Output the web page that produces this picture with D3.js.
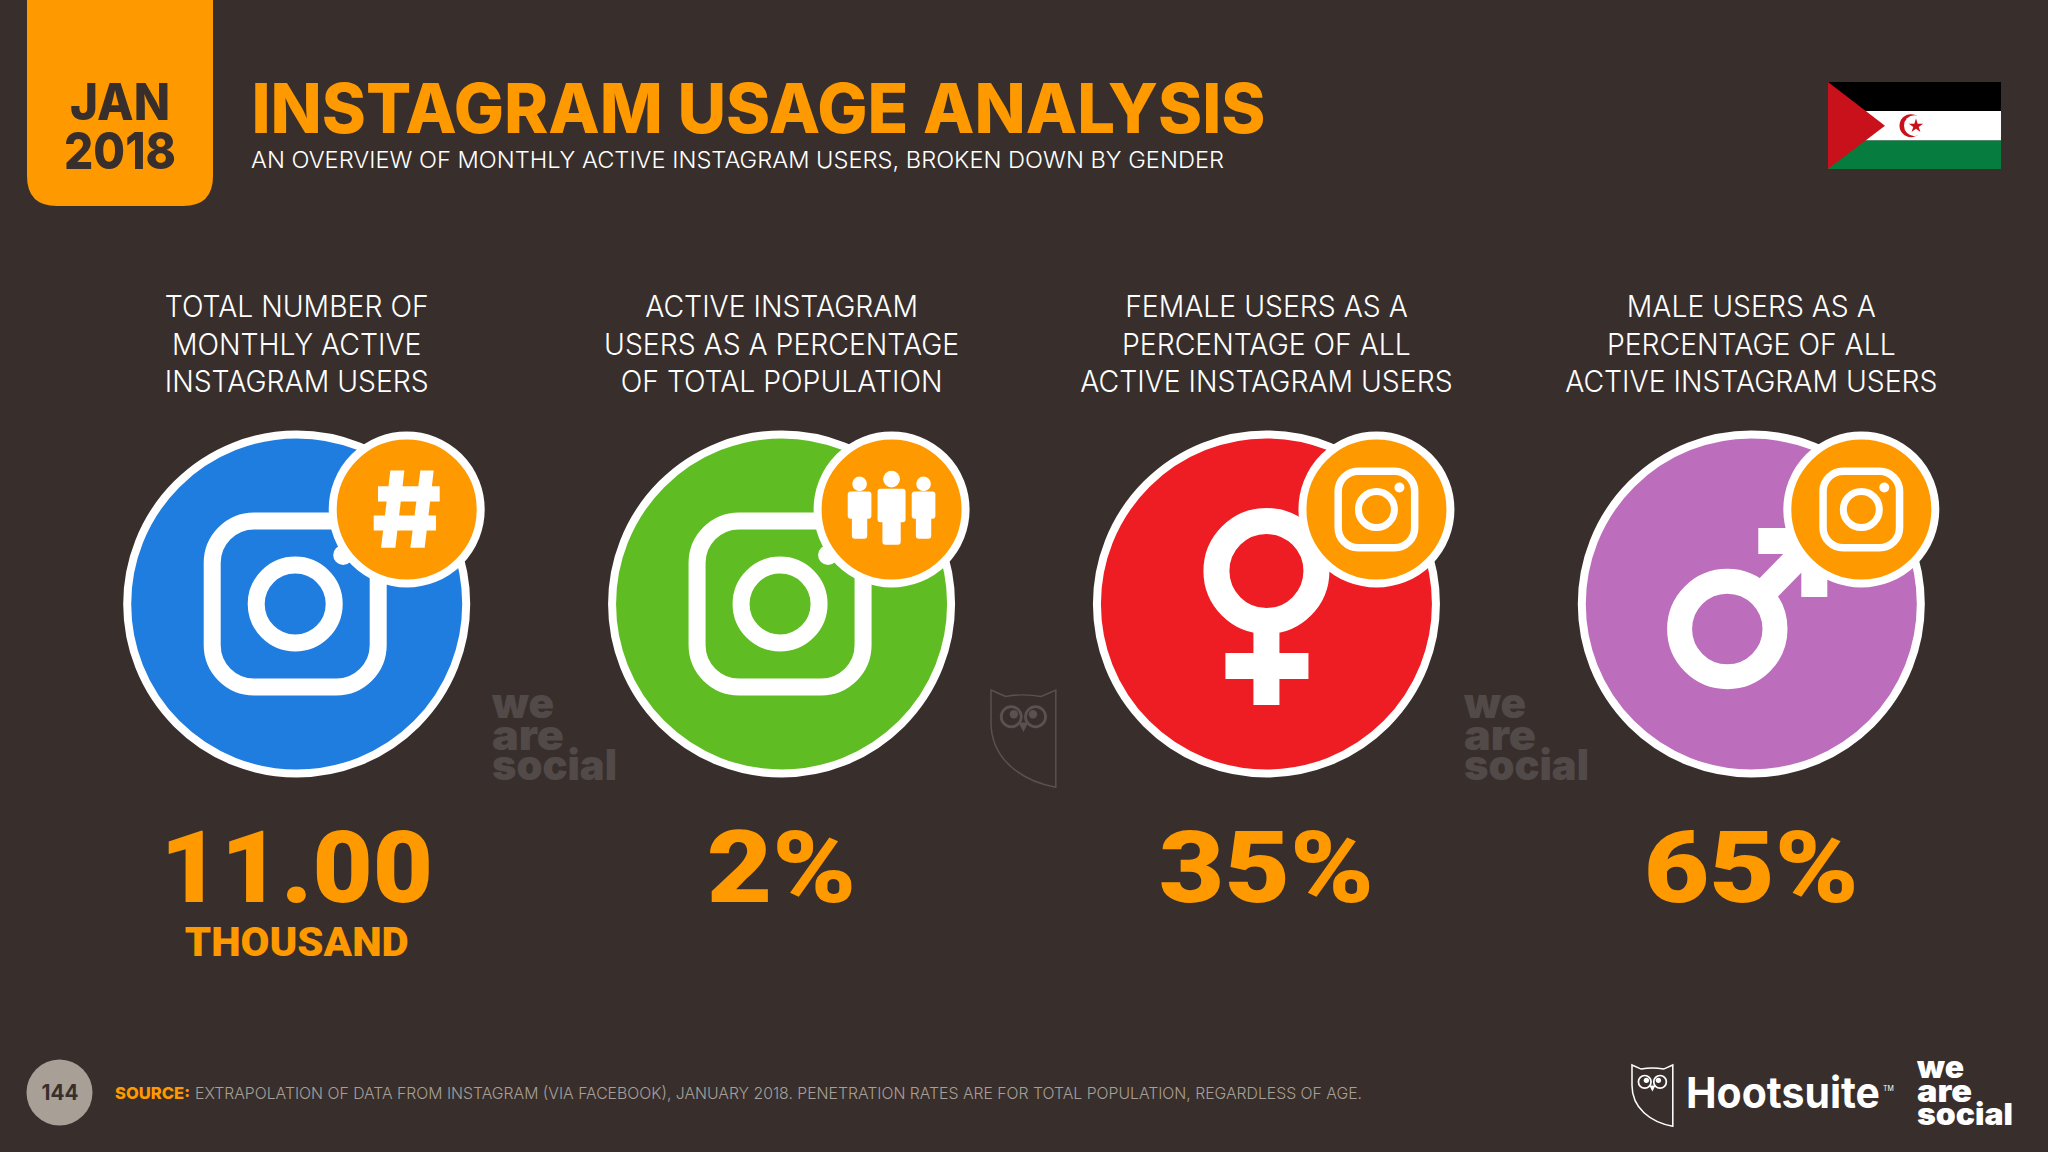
<!DOCTYPE html>
<html>
<head>
<meta charset="utf-8">
<script src="https://d3js.org/d3.v7.min.js"></script>
<style>
html,body{margin:0;padding:0;background:#382f2d;}
svg{display:block;}
</style>
</head>
<body>
<svg id="chart" width="2048" height="1152"></svg>
<script>
// ---------- data ----------
const categories = ["Total users","Penetration","Female share","Male share"];
const headings = [
  ["TOTAL NUMBER OF","MONTHLY ACTIVE","INSTAGRAM USERS"],
  ["ACTIVE INSTAGRAM","USERS AS A PERCENTAGE","OF TOTAL POPULATION"],
  ["FEMALE USERS AS A","PERCENTAGE OF ALL","ACTIVE INSTAGRAM USERS"],
  ["MALE USERS AS A","PERCENTAGE OF ALL","ACTIVE INSTAGRAM USERS"]
];
const values = [11.00, 2, 35, 65];
const valueFormats = [".2f","d","d","d"];
const suffixes = ["","%","%","%"];
const units = ["THOUSAND","","",""];
const colors = ["#1f7ddf","#5fbd23","#ee1d23","#bc6dbc"];
const mainIcons = ["instagram","instagram","female","male"];
const badgeIcons = ["hash","people","instagram","instagram"];
const titleText = "INSTAGRAM USAGE ANALYSIS";
const subtitleText = "AN OVERVIEW OF MONTHLY ACTIVE INSTAGRAM USERS, BROKEN DOWN BY GENDER";
const dateLines = ["JAN","2018"];
const sourceLabel = "SOURCE:";
const sourceText = "EXTRAPOLATION OF DATA FROM INSTAGRAM (VIA FACEBOOK), JANUARY 2018. PENETRATION RATES ARE FOR TOTAL POPULATION, REGARDLESS OF AGE.";
const pageNumber = "144";
const brandWords = ["we","are","social"];

// ---------- setup ----------
const ORANGE = "#ff9900", BG = "#382f2d", WHITE = "#ffffff";
const svg = d3.select("#chart");
const x = d3.scalePoint().domain(categories).range([296.7, 1751.3]);
const cy = 604;

svg.append("rect").attr("width",2048).attr("height",1152).attr("fill",BG);

function fit(sel, width){
  sel.attr("textLength", width).attr("lengthAdjust","spacingAndGlyphs");
  return sel;
}
function fitK(sel, k){
  sel.each(function(){
    const w = this.getComputedTextLength();
    d3.select(this).attr("textLength", w*k).attr("lengthAdjust","spacingAndGlyphs");
  });
  return sel;
}
function label(parent, t, px, py, font, size, weight, fill, anchor){
  return parent.append("text").text(t).attr("x",px).attr("y",py)
    .attr("font-family",font).attr("font-size",size).attr("font-weight",weight)
    .attr("fill",fill).attr("text-anchor",anchor||"start");
}

// ---------- header ----------
const boxPath = d3.path();
boxPath.moveTo(27,0); boxPath.lineTo(213,0); boxPath.lineTo(213,176);
boxPath.quadraticCurveTo(213,206,183,206); boxPath.lineTo(57,206);
boxPath.quadraticCurveTo(27,206,27,176); boxPath.closePath();
svg.append("path").attr("d",boxPath.toString()).attr("fill",ORANGE);

fit(label(svg,dateLines[0],120,120,"Inter",51,800,BG,"middle"),100);
fit(label(svg,dateLines[1],120,169,"Inter",51,800,BG,"middle"),112);

fit(label(svg,titleText,251.5,133,"Inter",69,800,ORANGE),1014);
fit(label(svg,subtitleText,251,167.5,"Inter",22.5,300,WHITE),973);

// flag
const flag = svg.append("g");
flag.append("rect").attr("x",1828).attr("y",82).attr("width",173).attr("height",29).attr("fill","#000");
flag.append("rect").attr("x",1828).attr("y",111).attr("width",173).attr("height",29.5).attr("fill","#fff");
flag.append("rect").attr("x",1828).attr("y",140.5).attr("width",173).attr("height",28.5).attr("fill","#067d3e");
flag.append("path").attr("d","M1828,82L1885,125.7L1828,169Z").attr("fill","#c8111a");
flag.append("circle").attr("cx",1911).attr("cy",125.7).attr("r",11.5).attr("fill","#c8111a");
flag.append("circle").attr("cx",1914.5).attr("cy",125.7).attr("r",10.5).attr("fill","#fff");
flag.append("path").attr("d",d3.symbol(d3.symbolStar,63)()).attr("transform","translate(1916,126)").attr("fill","#c8111a");

// ---------- shared logos ----------
function wordmark(gx, baselines, size, width, fill){
  const g = svg.append("g");
  brandWords.forEach((w,i)=>{
    const t = label(g,w,gx,baselines[i],"Inter",size,900,fill);
    fitK(t, width[i]/t.node().getComputedTextLength());
  });
  return g;
}
function owl(ox, oy, s, stroke, fillEye, sw){
  const g = svg.append("g").attr("transform",`translate(${ox},${oy}) scale(${s})`);
  g.append("path").attr("d","M0,0 L9,4 Q20,2 31,4 L40,0 V60 C18,56 0,42 0,20 Z")
    .attr("fill","none").attr("stroke",stroke).attr("stroke-width",sw);
  [12.5,27.5].forEach((ex,i)=>{
    g.append("circle").attr("cx",ex).attr("cy",16.5).attr("r",6.2)
      .attr("fill","none").attr("stroke",fillEye).attr("stroke-width",1.7);
    g.append("circle").attr("cx",ex+(i?-1.6:1.6)).attr("cy",15).attr("r",2.6).attr("fill",fillEye);
  });
  g.append("path").attr("d","M17,20 H23 L20,26 Z").attr("fill",fillEye);
}
// watermarks
const wmColor = "#524a49";
wordmark(492,[718,750,780],42,[62,72,125],wmColor);
wordmark(1464,[718,750,780],42,[62,72,125],wmColor);
owl(991,690,1.62,"#5a5150","#5a5150",0.9);

// ---------- icons ----------
function instaIcon(g, side, corner, sw, ringR, ringSw, dotDx, dotDy, dotR, color, dx){
  const i = g.append("g").attr("transform",`translate(${dx||0},0)`);
  i.append("rect").attr("x",-side/2).attr("y",-side/2).attr("width",side).attr("height",side)
    .attr("rx",corner).attr("fill","none").attr("stroke",color).attr("stroke-width",sw);
  i.append("circle").attr("r",ringR).attr("fill","none").attr("stroke",color).attr("stroke-width",ringSw);
  i.append("circle").attr("cx",dotDx).attr("cy",dotDy).attr("r",dotR).attr("fill",color);
}
const mainDrawers = {
  instagram: g => instaIcon(g,166,42,17,39,17,48,-49,10,WHITE,-1.5),
  female: g => {
    g.append("circle").attr("cy",-33).attr("r",50).attr("fill","none").attr("stroke",WHITE).attr("stroke-width",26);
    g.append("rect").attr("x",-13).attr("y",15).attr("width",26).attr("height",86).attr("fill",WHITE);
    g.append("rect").attr("x",-41).attr("y",49).attr("width",83).attr("height",26).attr("fill",WHITE);
  },
  male: g => {
    g.append("circle").attr("cx",-24).attr("cy",25).attr("r",47.7).attr("fill","none").attr("stroke",WHITE).attr("stroke-width",25);
    g.append("line").attr("x1",5).attr("y1",-4).attr("x2",60).attr("y2",-60).attr("stroke",WHITE).attr("stroke-width",26);
    g.append("path").attr("d","M7,-76 H76 V-7 H50 V-50 H7 Z").attr("fill",WHITE);
  }
};
function person(g, cx, headY, headR, top, w, arm, legW, bottom){
  g.append("circle").attr("cx",cx).attr("cy",headY).attr("r",headR).attr("fill",WHITE);
  g.append("rect").attr("x",cx-w/2).attr("y",top).attr("width",w).attr("height",arm-top).attr("rx",9).attr("fill",WHITE);
  g.append("rect").attr("x",cx-legW/2).attr("y",top+10).attr("width",legW).attr("height",bottom-top-10).attr("rx",9).attr("fill",WHITE);
}
const badgeDrawers = {
  hash: g => {
    const h = g.append("g").attr("transform","scale(0.3333)").attr("fill",WHITE);
    h.append("path").attr("d","M-86,-70 H99 V-24 H-86 Z");
    h.append("path").attr("d","M-99,18 H88 V63 H-99 Z");
    h.append("path").attr("d","M-49,-117 H-7 L-34,115 H-77 Z");
    h.append("path").attr("d","M41,-117 H81 L54,115 H11 Z");
  },
  people: g => {
    const p = g.append("g").attr("transform","scale(0.3333)");
    person(p,0,-91,25,-62,84,38,55,106);
    person(p,-96,-77,22,-54,71,28,46,88);
    person(p,96,-77,22,-54,71,28,46,88);
  },
  instagram: g => instaIcon(g,76.5,20,7.5,18,7,23,-22,5,WHITE,0)
};

// ---------- columns ----------
const columns = svg.selectAll("g.column").data(categories).join("g")
  .attr("class","column")
  .attr("transform",d=>`translate(${x(d)},0)`);

columns.each(function(d,i){
  const col = d3.select(this);
  headings[i].forEach((line,j)=>{
    const t = label(col,line,0,[317,355,392][j],"Inter",30,300,WHITE,"middle");
    fitK(t,0.945);
  });
  const disc = col.append("g").attr("transform",`translate(0,${cy})`);
  disc.append("circle").attr("r",169.5).attr("fill",colors[i]).attr("stroke",WHITE).attr("stroke-width",8);
  mainDrawers[mainIcons[i]](disc);
  const badge = disc.append("g").attr("transform","translate(110,-94.5)");
  badge.append("circle").attr("r",74).attr("fill",ORANGE).attr("stroke",WHITE).attr("stroke-width",8);
  badgeDrawers[badgeIcons[i]](badge);

  const txt = d3.format(valueFormats[i])(values[i]) + suffixes[i];
  const v = label(col,txt,0,902,"Roboto",101,900,ORANGE,"middle");
  fitK(v,suffixes[i] ? 1.12 : 1.03);
  if(units[i]) fit(label(col,units[i],0,956,"Roboto",41,900,ORANGE,"middle"),224);
});

// ---------- footer ----------
svg.append("circle").attr("cx",59.5).attr("cy",1092.5).attr("r",33).attr("fill","#a89f97");
fit(label(svg,pageNumber,60,1100,"Inter",21,700,BG,"middle"),37);
fit(label(svg,sourceLabel,115,1099,"Inter",16.5,800,ORANGE),75);
fit(label(svg,sourceText,195,1099,"Inter",16.5,300,"#a89f97"),1167);

owl(1632,1065,1.02,WHITE,WHITE,1.5);
fit(label(svg,"Hootsuite",1686,1108,"Inter",43,700,WHITE),194);
label(svg,"TM",1883,1091,"Inter",7,400,WHITE);
wordmark(1917,[1078,1102,1124.5],30,[47,55,96],WHITE);
</script>
</body>
</html>
